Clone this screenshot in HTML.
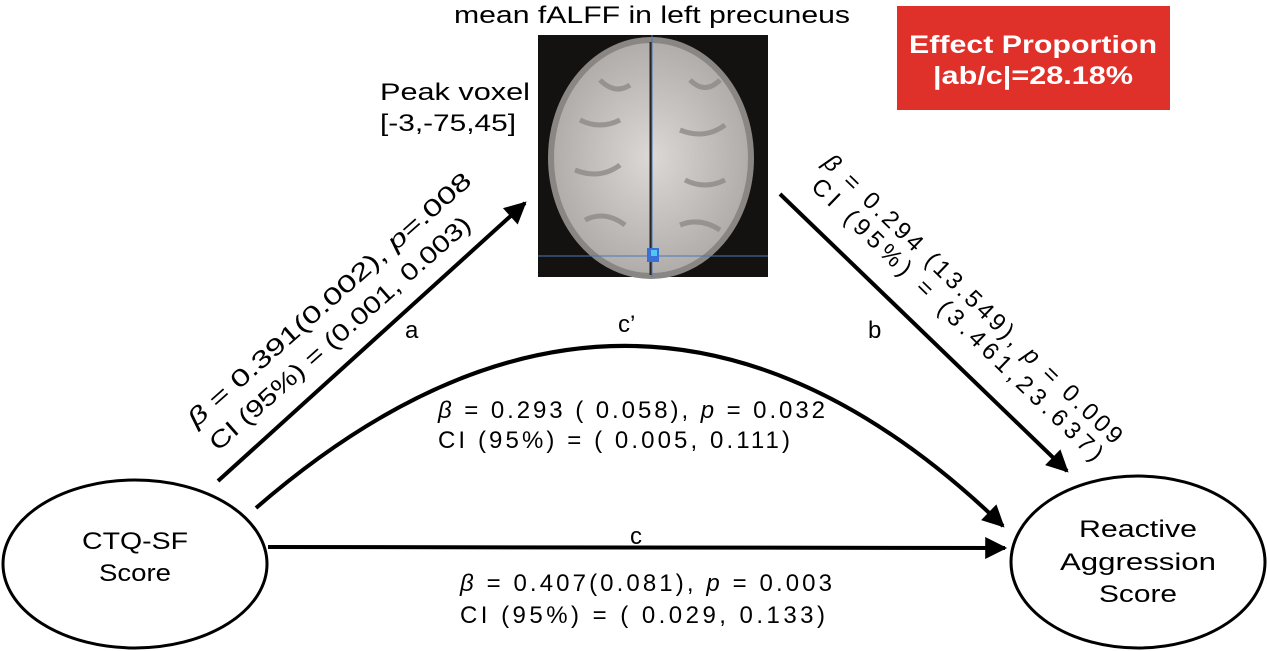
<!DOCTYPE html>
<html><head><meta charset="utf-8"><style>
body{margin:0;background:#fff;}
svg{display:block;font-family:"Liberation Sans",Arial,sans-serif;}
</style></head><body>
<svg width="1267" height="651" viewBox="0 0 1267 651" xmlns="http://www.w3.org/2000/svg">
<defs>
<marker id="ah" viewBox="0 0 10 10" refX="9" refY="5" markerWidth="6.5" markerHeight="5.5" markerUnits="strokeWidth" orient="auto">
<path d="M0,0 L10,5 L0,10 z" fill="#000"/></marker>
<radialGradient id="bg" cx="50%" cy="50%" r="50%"><stop offset="0" stop-color="#dcd8d6"/><stop offset="1" stop-color="#b0acaa"/></radialGradient>
</defs>
<text x="652" y="23" font-size="24" text-anchor="middle" textLength="396" lengthAdjust="spacingAndGlyphs">mean fALFF in left precuneus</text>
<rect x="538" y="35" width="230" height="242" fill="#141210"/>
<ellipse cx="651" cy="158" rx="100" ry="118" fill="url(#bg)" stroke="#8a8684" stroke-width="6"/>
<g stroke="#8d8987" stroke-width="5" fill="none" opacity="0.8">
<path d="M580,120 q20,10 40,0 M575,170 q25,10 45,-5 M585,220 q20,-10 40,5 M600,80 q15,15 30,5 M690,80 q15,15 30,0 M680,130 q25,10 45,-5 M685,180 q20,10 40,0 M680,225 q20,-8 40,5"/>
</g>
<line x1="651" y1="42" x2="651" y2="275" stroke="#2a2624" stroke-width="3"/>
<line x1="652" y1="35" x2="652" y2="277" stroke="#4a78b8" stroke-width="1"/>
<line x1="538" y1="256" x2="768" y2="256" stroke="#4a78b8" stroke-width="1"/>
<rect x="647" y="248" width="12" height="14" fill="#3a6fd8"/>
<rect x="651" y="250" width="6" height="6" fill="#4ec8f0"/>
<text x="380" y="100" font-size="24" textLength="150" lengthAdjust="spacingAndGlyphs">Peak voxel</text>
<text x="380" y="131" font-size="24" textLength="136" lengthAdjust="spacingAndGlyphs">[-3,-75,45]</text>
<rect x="897" y="6" width="273" height="104" fill="#e0302a"/>
<text x="1033" y="53" font-size="25" font-weight="bold" fill="#fff" text-anchor="middle" textLength="248" lengthAdjust="spacingAndGlyphs">Effect Proportion</text>
<text x="1033" y="84" font-size="25" font-weight="bold" fill="#fff" text-anchor="middle" textLength="200" lengthAdjust="spacingAndGlyphs">|ab/c|=28.18%</text>
<ellipse cx="135" cy="564" rx="132" ry="84" fill="#fff" stroke="#000" stroke-width="3"/>
<ellipse cx="1138" cy="562" rx="127" ry="86" fill="#fff" stroke="#000" stroke-width="3"/>
<g font-size="24" text-anchor="middle">
<text x="135" y="549" textLength="106" lengthAdjust="spacingAndGlyphs">CTQ-SF</text>
<text x="135" y="581" textLength="72" lengthAdjust="spacingAndGlyphs">Score</text>
<text x="1138" y="537" textLength="118" lengthAdjust="spacingAndGlyphs">Reactive</text>
<text x="1138" y="570" textLength="156" lengthAdjust="spacingAndGlyphs">Aggression</text>
<text x="1138" y="602" textLength="78" lengthAdjust="spacingAndGlyphs">Score</text>
</g>
<g stroke="#000" stroke-width="4" fill="none">
<line x1="218" y1="481" x2="525" y2="203" marker-end="url(#ah)"/>
<line x1="780" y1="194" x2="1067" y2="471" marker-end="url(#ah)"/>
<path d="M256,508 Q640,175 1003,526" marker-end="url(#ah)"/>
<line x1="268" y1="547" x2="1005" y2="548" marker-end="url(#ah)"/>
</g>
<g font-size="24">
<text x="405" y="338">a</text>
<text x="868" y="338">b</text>
<text x="618" y="332">c’</text>
<text x="630" y="544">c</text>
<text transform="translate(196,428) rotate(-41.5)" textLength="370" lengthAdjust="spacingAndGlyphs"><tspan font-style="italic">β</tspan> = 0.391(0.002), <tspan font-style="italic">p</tspan>=.008</text>
<text transform="translate(218,452) rotate(-41.5)" textLength="340" lengthAdjust="spacingAndGlyphs">CI (95%) = (0.001, 0.003)</text>
<text transform="translate(822,164) rotate(44)" textLength="405" lengthAdjust="spacing"><tspan font-style="italic">β</tspan> = 0.294 (13.549), <tspan font-style="italic">p</tspan> = 0.009</text>
<text transform="translate(810,188) rotate(44)" textLength="395" lengthAdjust="spacing">CI (95%) = (3.461,23.637)</text>
<text x="438" y="418" textLength="387" lengthAdjust="spacing"><tspan font-style="italic">β</tspan> = 0.293 ( 0.058), <tspan font-style="italic">p</tspan> = 0.032</text>
<text x="438" y="448" textLength="352" lengthAdjust="spacing">CI (95%) = ( 0.005, 0.111)</text>
<text x="460" y="591" textLength="372" lengthAdjust="spacing"><tspan font-style="italic">β</tspan> = 0.407(0.081), <tspan font-style="italic">p</tspan> = 0.003</text>
<text x="460" y="623" textLength="365" lengthAdjust="spacing">CI (95%) = ( 0.029, 0.133)</text>
</g>
</svg>
</body></html>
